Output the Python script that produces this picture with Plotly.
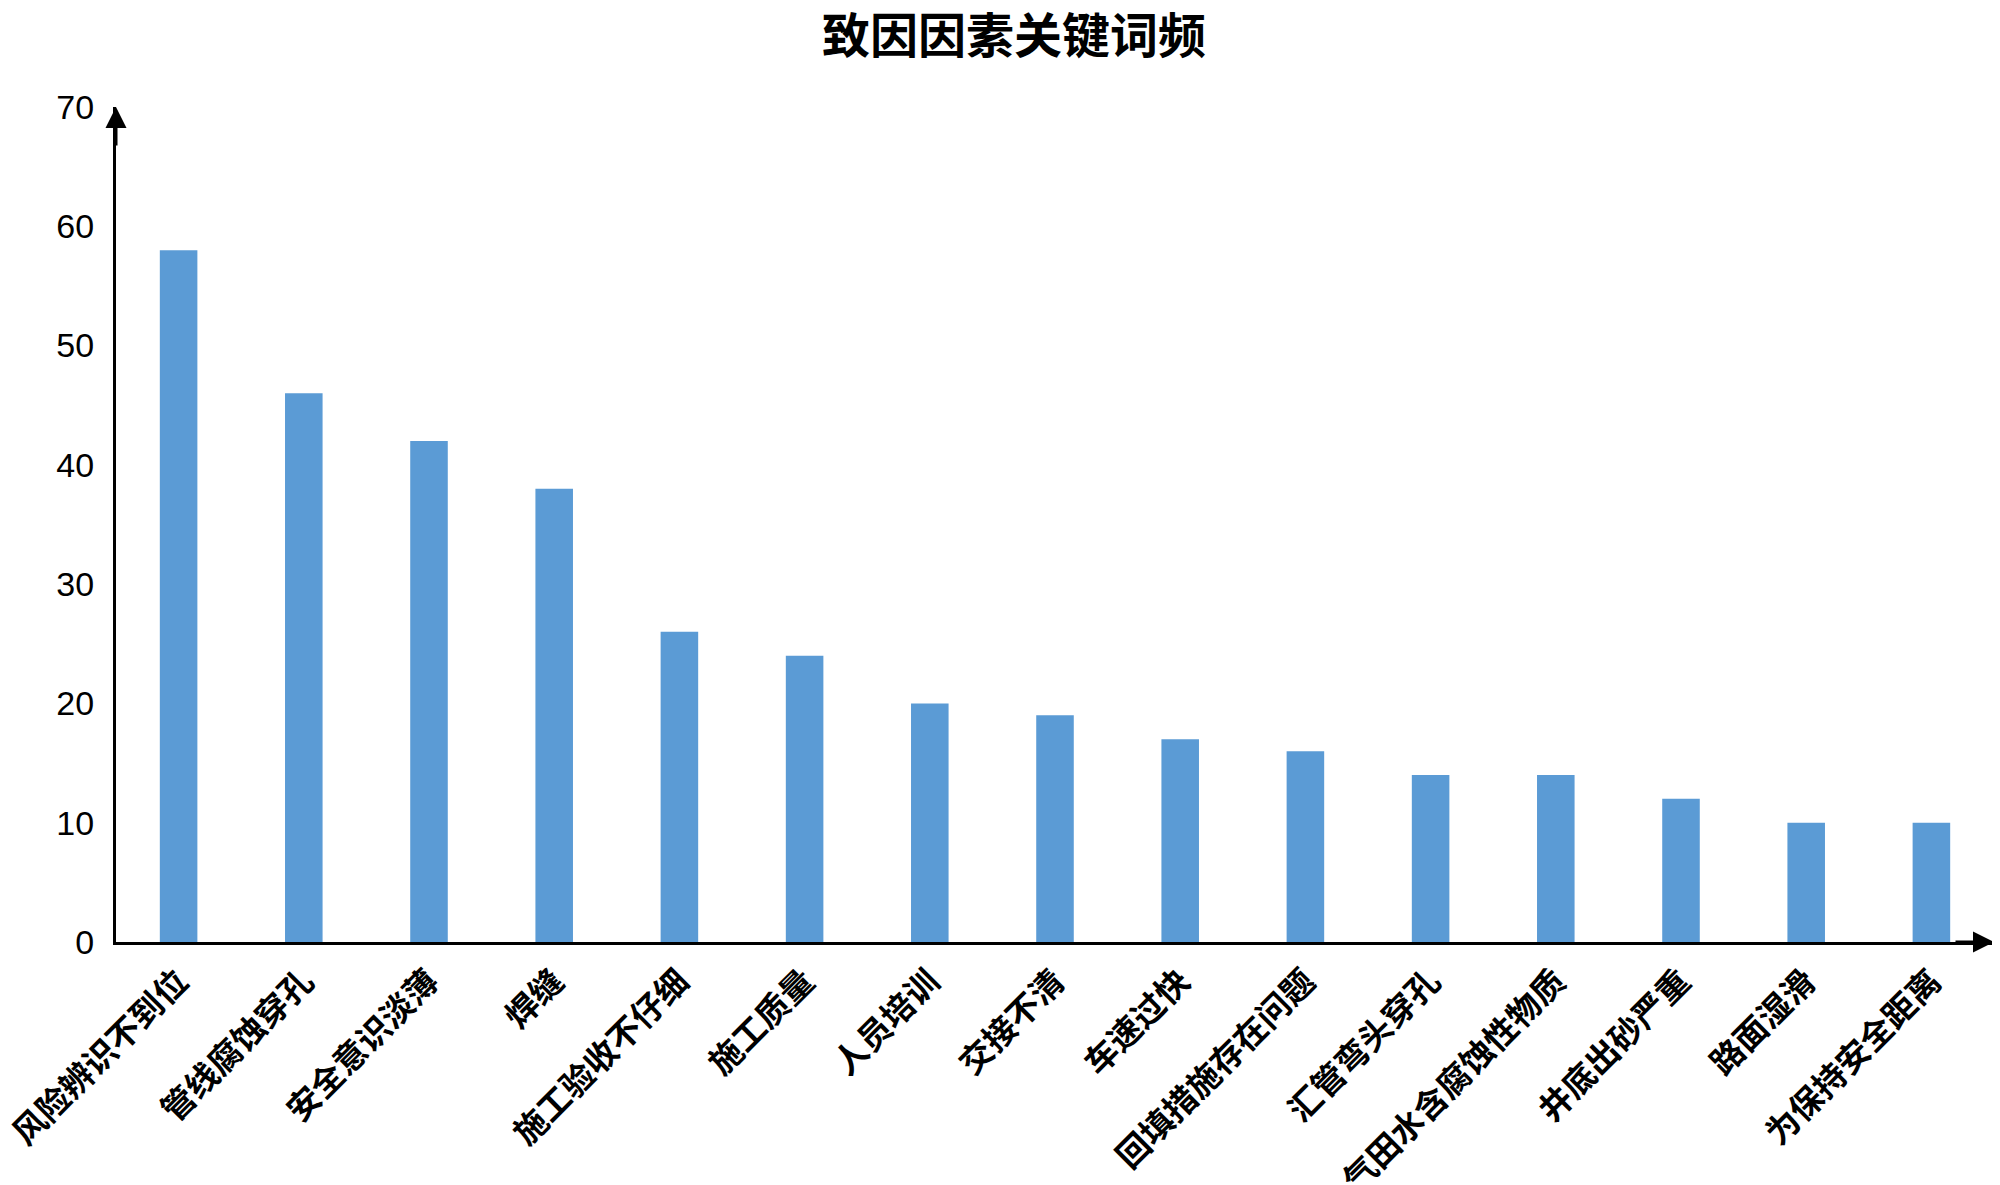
import plotly.graph_objects as go

factors = ["风险辨识不到位", "管线腐蚀穿孔", "安全意识淡薄", "焊缝", "施工验收不仔细",
           "施工质量", "人员培训", "交接不清", "车速过快", "回填措施存在问题",
           "汇管弯头穿孔", "气田水含腐蚀性物质", "井底出砂严重", "路面湿滑", "为保持安全距离"]
counts = [58, 46, 42, 38, 26, 24, 20, 19, 17, 16, 14, 14, 12, 10, 10]
y_ticks = [0, 10, 20, 30, 40, 50, 60, 70]

fig = go.Figure(go.Bar(
    x=factors,
    y=counts,
    marker=dict(color="#5B9BD5", line=dict(width=0)),
    width=0.3,
))

fig.update_layout(
    width=1992,
    height=1177,
    margin=dict(l=108, r=6, t=99, b=243),
    paper_bgcolor="white",
    plot_bgcolor="white",
    showlegend=False,
    title=dict(
        text="<b>致因因素关键词频</b>",
        x=0.505, xanchor="center",
        y=0.976, yanchor="middle",
        font=dict(family="Noto Sans CJK SC", size=48, color="black"),
    ),
    xaxis=dict(
        type="category",
        range=[-0.5, 14.5],
        automargin=False,
        showline=True, linecolor="black", linewidth=3,
        showgrid=False, ticks="",
        tickangle=-45,
        ticklabelstandoff=4,
        tickfont=dict(family="Noto Sans CJK SC", size=33, color="black", weight="bold"),
    ),
    yaxis=dict(
        range=[0, 70],
        tickvals=y_ticks,
        automargin=False,
        showline=True, linecolor="black", linewidth=3,
        showgrid=False, zeroline=False, ticks="",
        ticklabelstandoff=12,
        tickfont=dict(family="Liberation Sans, Arial", size=34, color="black"),
    ),
)

# axis arrows
fig.add_annotation(x=0, y=1.0, xref="paper", yref="paper", ax=0, ay=40,
                   showarrow=True, arrowhead=2, arrowsize=1.4, arrowwidth=3,
                   arrowcolor="black", text="")
fig.add_annotation(x=1.0, y=0, xref="paper", yref="paper", ax=-40, ay=0,
                   showarrow=True, arrowhead=2, arrowsize=1.4, arrowwidth=3,
                   arrowcolor="black", text="")

fig.write_html("out.html")
